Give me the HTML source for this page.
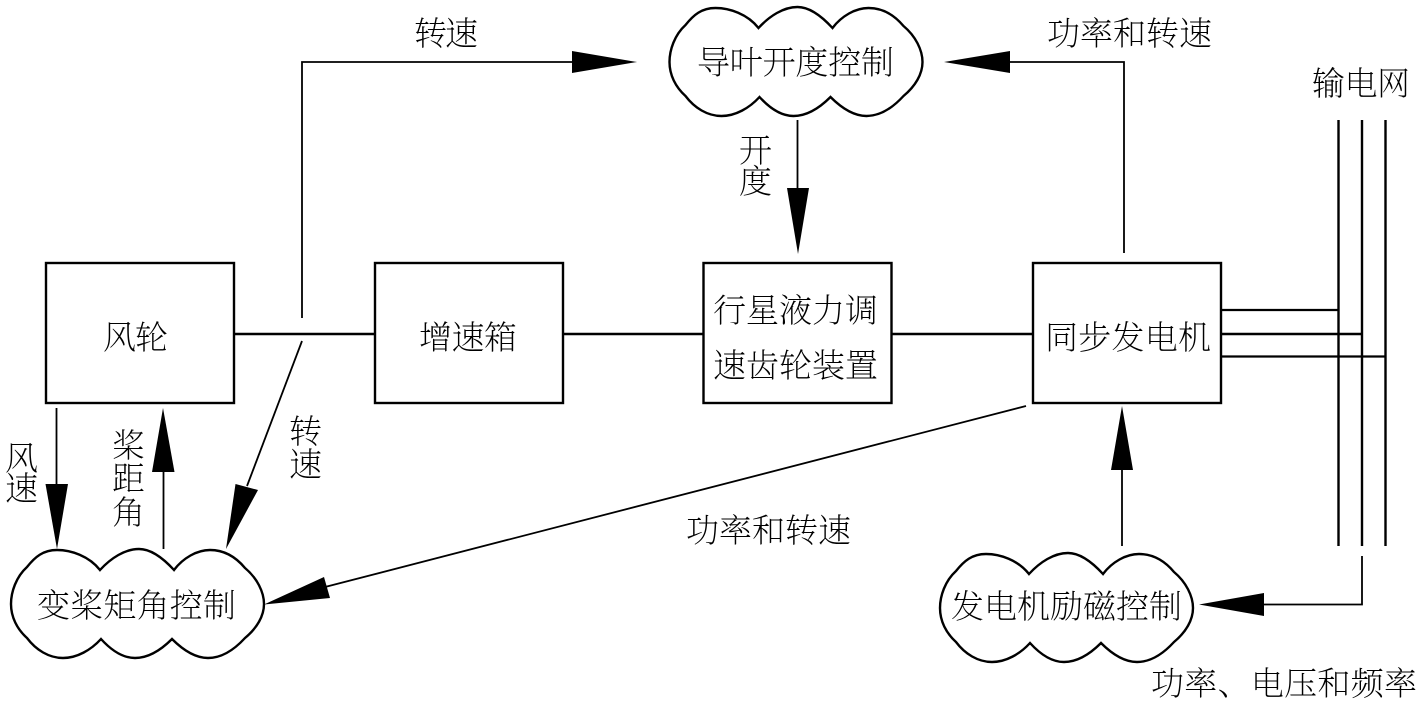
<!DOCTYPE html>
<html><head><meta charset="utf-8"><style>
html,body{margin:0;padding:0;background:#fff}
svg{display:block}
text{font-family:"Liberation Serif","Noto Serif CJK SC",serif;font-weight:200;font-size:33px;fill:#000}
</style></head><body>
<svg width="1417" height="703" viewBox="0 0 1417 703" xmlns="http://www.w3.org/2000/svg">
<defs>
<path id="c" d="M89 20C78 6 60 0 46 0C32 0 24 7 16 17C5 27 0 42 0 54C0 67 6 79 16 88C25 100 38 108 52 108C66 108 80 100 90 89C100 100 112 108 124 108C138 108 150 100 161 89C172 100 184 108 197 108C210 108 223 100 234 88C246 78 253 66 253 54C253 42 246 28 234 18C224 6 212 0 199 0C186 0 172 8 163 20C152 8 140 -1 128 -1C114 -1 100 8 89 20Z" fill="#fff" stroke="#000" stroke-width="2.4"/>
</defs>
<g fill="#fff" stroke="#000" stroke-width="2.4">
<rect x="46" y="263" width="188" height="140"/>
<rect x="375" y="263" width="188" height="140"/>
<rect x="703.500" y="263" width="188" height="140"/>
<rect x="1033" y="263" width="188" height="140"/>
</g>
<use href="#c" x="11" y="550"/>
<use href="#c" x="669.500" y="8"/>
<use href="#c" x="940" y="554"/>
<g fill="none" stroke="#000" stroke-width="2.4">
<path d="M234 334H375M563 334H703M891 334H1033M1221 334H1362"/>
<path d="M1338.500 120V546M1362 120V546M1385.500 120V546"/>
</g>
<g fill="none" stroke="#000" stroke-width="1.800">
<path d="M302 318V62H575"/>
<path d="M1124 253V62H1008"/>
<path d="M797.500 120V190"/>
<path d="M56.500 408V486"/>
<path d="M163.500 549V470"/>
<path d="M302 341L247 486"/>
<path d="M1026 406L325 587"/>
<path d="M1122 546V468"/>
<path d="M1362 556V604.500H1262"/>
<path d="M1221 310H1338.500M1221 356.500H1385.500" stroke-width="2.200"/>
</g>
<g fill="#000">
<path d="M572 51L637 62L572 73Z"/>
<path d="M1010 51L944 62L1010 73Z"/>
<path d="M787 188H809L798 254Z"/>
<path d="M45.500 484H68L57 549Z"/>
<path d="M152 472H174.500L163 408Z"/>
<path d="M235.500 484L258 490L226 549Z"/>
<path d="M324 577L330 598L264 604.500Z"/>
<path d="M1111 470H1133L1122 406Z"/>
<path d="M1264 593V616L1199 604.500Z"/>
</g>
<text x="414" y="45" textLength="64">转速</text>
<text x="697" y="74" textLength="197">导叶开度控制</text>
<text x="1047" y="45" textLength="165">功率和转速</text>
<text x="1312" y="95" textLength="98">输电网</text>
<text x="739" y="162">开</text>
<text x="739" y="193">度</text>
<text x="103" y="349" textLength="65">风轮</text>
<text x="419" y="349" textLength="98">增速箱</text>
<text x="713" y="322" textLength="165">行星液力调</text>
<text x="713" y="377" textLength="165">速齿轮装置</text>
<text x="1045" y="349" textLength="166">同步发电机</text>
<text x="5" y="470">风</text>
<text x="5" y="500">速</text>
<text x="112" y="457">桨</text>
<text x="112" y="490">距</text>
<text x="112" y="524">角</text>
<text x="289" y="443">转</text>
<text x="289" y="476">速</text>
<text x="686" y="542" textLength="165">功率和转速</text>
<text x="37" y="617" textLength="199">变桨矩角控制</text>
<text x="951" y="618" textLength="231">发电机励磁控制</text>
<text x="1151" y="695" textLength="266">功率、电压和频率</text>
</svg>
</body></html>
